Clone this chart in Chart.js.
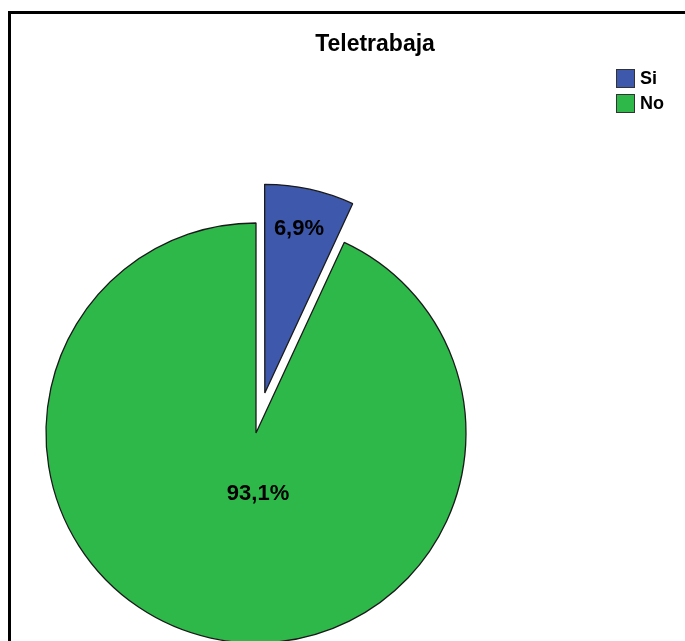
<!DOCTYPE html>
<html>
<head>
<meta charset="utf-8">
<title>Teletrabaja</title>
<script src="https://cdn.jsdelivr.net/npm/chart.js@4.4.1/dist/chart.umd.min.js"></script>
<style>
  html, body { margin: 0; padding: 0; background: #fff; overflow: hidden; }
  #marco { position: absolute; left: 8px; top: 11px; width: 800px; height: 800px; border-top: 3px solid #000; border-left: 3px solid #000; }
  #lienzo { position: absolute; left: 0; top: 0; width: 685px; height: 641px; overflow: hidden; }
</style>
</head>
<body>
<div id="marco"></div>
<div id="lienzo"><canvas id="grafico" width="685" height="808"></canvas></div>
<script>
// datos de la pregunta "Teletrabaja" (porcentajes)
const categorias = ['Si', 'No'];
const porcentajes = [6.9, 93.1];
const colores = ['#3e58ac', '#2eb84a'];
const titulo = 'Teletrabaja';

const fuente = '"Liberation Sans", Arial, sans-serif';
const fmtPct = v => v.toFixed(1).replace('.', ',') + '%';

// ArcElement agranda el radio del sector desplazado (offset/4 * fix) y
// estrecha su ángulo; se compensa para que el sector separado conserve
// el mismo radio y la misma abertura que le tocan
const radioFijo = {
  id: 'radioFijo',
  afterDatasetsUpdate(chart) {
    const meta = chart.getDatasetMeta(0);
    const base = meta.controller.outerRadius;
    meta.data.forEach(arc => {
      const o = (arc.options.offset || 0) / 4;
      if (!o) return;
      const fix = 1 - Math.sin(Math.min(Math.PI, arc.circumference));
      const extra = o * fix;
      arc.outerRadius = base - extra;
      const d = (extra / Math.PI) / base / 2;
      arc.startAngle -= d;
      arc.endAngle += d;
      arc.circumference += 2 * d;
    });
  }
};

// título, leyenda y etiquetas de porcentaje
const decoracion = {
  id: 'decoracion',
  afterDatasetsDraw(chart) {
    const ctx = chart.ctx;
    const meta = chart.getDatasetMeta(0);
    const r = meta.controller.outerRadius;
    ctx.save();
    ctx.fillStyle = '#000';
    ctx.textBaseline = 'middle';

    // etiquetas dentro de cada sector
    ctx.font = 'bold 22px ' + fuente;
    ctx.textAlign = 'center';
    meta.data.forEach((arc, i) => {
      const p = arc.getProps(['x', 'y', 'startAngle', 'endAngle'], true);
      const circ = p.endAngle - p.startAngle;
      const mid = (p.startAngle + p.endAngle) / 2;
      let lx, ly;
      if (circ > Math.PI) {
        lx = p.x + 2;
        ly = p.y + r * 0.29;
      } else {
        const d = (arc.options.offset || 0) / 4 + r * 0.8;
        lx = p.x + Math.cos(mid) * d - 2;
        ly = p.y + Math.sin(mid) * d;
      }
      ctx.fillText(fmtPct(porcentajes[i]), lx, ly);
    });

    // título
    ctx.font = 'bold 23px ' + fuente;
    ctx.fillText(titulo, 375, 45);

    // leyenda
    ctx.font = 'bold 18px ' + fuente;
    ctx.textAlign = 'left';
    chart.data.labels.forEach((lab, i) => {
      const y = 69 + i * 25;
      ctx.fillStyle = chart.data.datasets[0].backgroundColor[i];
      ctx.fillRect(616, y, 19, 19);
      ctx.strokeStyle = '#333';
      ctx.lineWidth = 1;
      ctx.strokeRect(616.5, y + 0.5, 18, 18);
      ctx.fillStyle = '#000';
      ctx.fillText(lab, 640, y + 10);
    });
    ctx.restore();
  }
};

new Chart(document.getElementById('grafico'), {
  type: 'pie',
  data: {
    labels: categorias,
    datasets: [{
      data: porcentajes,
      backgroundColor: colores,
      borderColor: '#1a1a1a',
      borderWidth: 1.3,
      offset: [164, 0],
      hoverOffset: 0
    }]
  },
  options: {
    responsive: false,
    animation: false,
    events: [],
    radius: 210,
    layout: { padding: { left: 0, right: 173, top: 58, bottom: 0 } },
    plugins: {
      legend: { display: false },
      title: { display: false },
      tooltip: { enabled: false }
    }
  },
  plugins: [radioFijo, decoracion]
});
</script>
</body>
</html>
